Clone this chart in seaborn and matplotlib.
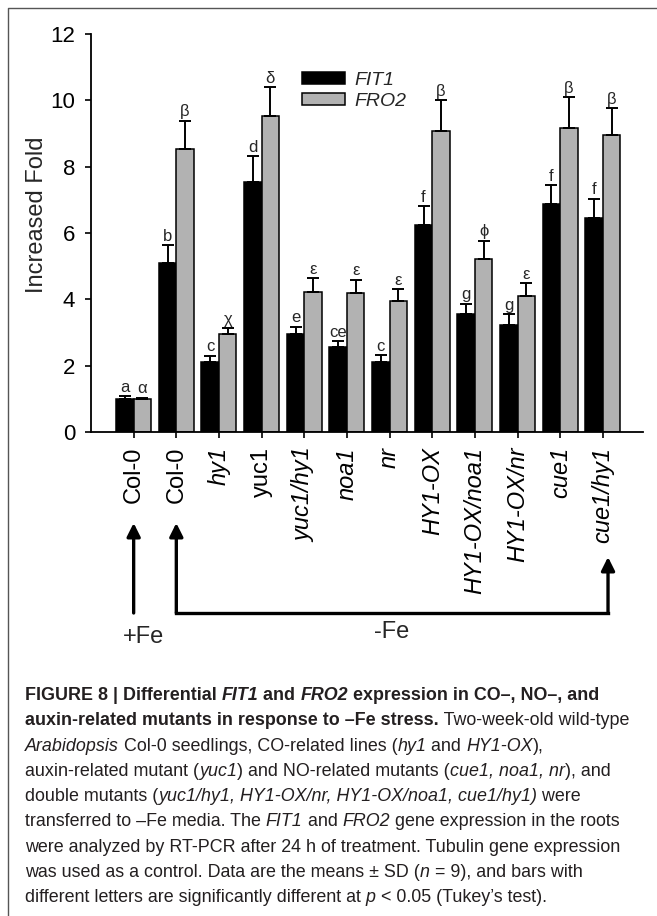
import matplotlib
matplotlib.use("Agg")
import numpy as np
import pandas as pd
import seaborn as sns
import matplotlib.pyplot as plt
from matplotlib import font_manager
from matplotlib.patches import Patch
from matplotlib.lines import Line2D
from matplotlib.transforms import blended_transform_factory

# data
lines = ["Col-0 +Fe", "Col-0", "hy1", "yuc1", "yuc1/hy1", "noa1", "nr",
         "HY1-OX", "HY1-OX/noa1", "HY1-OX/nr", "cue1", "cue1/hy1"]
tick_labels = ["Col-0", "Col-0", "hy1", "yuc1", "yuc1/hy1", "noa1", "nr",
               "HY1-OX", "HY1-OX/noa1", "HY1-OX/nr", "cue1", "cue1/hy1"]
italic_ticks = [False, False, True, False, True, True, True,
                True, True, True, True, True]

fit1 = [1.00, 5.09, 2.10, 7.55, 2.96, 2.55, 2.10, 6.23, 3.56, 3.23, 6.86, 6.45]
fit1_sd = [0.08, 0.54, 0.20, 0.76, 0.22, 0.18, 0.21, 0.57, 0.31, 0.33, 0.59, 0.58]
fro2 = [1.00, 8.54, 2.96, 9.54, 4.22, 4.18, 3.96, 9.08, 5.22, 4.10, 9.18, 8.95]
fro2_sd = [0.03, 0.85, 0.17, 0.85, 0.42, 0.41, 0.35, 0.92, 0.55, 0.38, 0.91, 0.82]
fit1_letters = ["a", "b", "c", "d", "e", "ce", "c", "f", "g", "g", "f", "f"]
fro2_letters = ["α", "β", "χ", "δ", "ε", "ε", "ε", "β", "ϕ", "ε", "β", "β"]

genes = ["FIT1", "FRO2"]
colors = ["black", "#b2b2b2"]

df = pd.DataFrame({
    "line": lines * 2,
    "gene": ["FIT1"] * len(lines) + ["FRO2"] * len(lines),
    "value": fit1 + fro2,
})

sns.set_style("ticks")
plt.rcParams["font.family"] = ["Liberation Sans", "DejaVu Sans"]

names = {f.name for f in font_manager.fontManager.ttflist}
cap_family = "Liberation Sans Narrow" if "Liberation Sans Narrow" in names else "Liberation Sans"

W, H = 657, 916
fig = plt.figure(figsize=(W / 100, H / 100), dpi=100)
ax = fig.add_axes([91 / W, 1 - 432 / H, (643 - 91) / W, (432 - 34) / H])

sns.barplot(data=df, x="line", y="value", hue="gene", order=lines,
            hue_order=genes, palette=colors, saturation=1, errorbar=None,
            width=0.82, edgecolor="black", linewidth=1.1, legend=False, ax=ax)

sds = [fit1_sd, fro2_sd]
letters = [fit1_letters, fro2_letters]
for cont, sd, lets in zip(ax.containers, sds, letters):
    xs = [b.get_x() + b.get_width() / 2 for b in cont]
    hs = [b.get_height() for b in cont]
    ax.errorbar(xs, hs, yerr=[np.zeros(len(sd)), sd], fmt="none",
                ecolor="black", elinewidth=1.4, capsize=4, capthick=1.4, zorder=3)
    for x, h, s, t in zip(xs, hs, sd, lets):
        ax.annotate(t, (x, h + s), xytext=(0, 1), textcoords="offset points",
                    ha="center", va="bottom", fontsize=12,
                    family=["Liberation Sans", "DejaVu Sans"])

ax.set_ylim(0, 12)
ax.set_yticks(np.arange(0, 13, 2))
ax.set_xlim(-1.0, 11.94)
ax.set_xticks(range(len(lines)))
ax.set_xticklabels(tick_labels, rotation=90, fontsize=17)
for lbl, it in zip(ax.get_xticklabels(), italic_ticks):
    lbl.set_fontstyle("italic" if it else "normal")
ax.tick_params(axis="y", labelsize=16, length=4.3, width=1.2, pad=7, colors="black")
ax.tick_params(axis="x", length=4.3, width=1.2, pad=6.5, colors="black")
ax.set_xlabel("")
ax.set_ylabel("Increased Fold", fontsize=17)
ax.yaxis.set_label_coords(-0.078, 0.545)
sns.despine(ax=ax)
for sp in ["left", "bottom"]:
    ax.spines[sp].set_linewidth(1.3)
    ax.spines[sp].set_color("black")

handles = [Patch(facecolor=c, edgecolor="black", linewidth=1.1) for c in colors]
ax.legend(handles, genes, prop={"style": "italic", "size": 14}, frameon=False,
          loc="upper left", bbox_to_anchor=(0.382, 0.905), handlelength=2.2,
          handleheight=0.6, handletextpad=0.5, labelspacing=0.2,
          borderpad=0, borderaxespad=0)

# treatment arrows under the tick labels
trans = blended_transform_factory(ax.transData, fig.transFigure)
fy = lambda p: 1 - p / H
arrow = dict(arrowstyle="-|>,head_length=0.4,head_width=0.2", mutation_scale=20,
             lw=2.4, color="black", shrinkA=0, shrinkB=0)
ax.annotate("", xy=(0, fy(523)), xytext=(0, fy(613)), xycoords=trans,
            textcoords=trans, arrowprops=arrow)
ax.annotate("", xy=(1, fy(523)), xytext=(1, fy(613)), xycoords=trans,
            textcoords=trans, arrowprops=arrow)
ax.annotate("", xy=(11.12, fy(557)), xytext=(11.12, fy(613)), xycoords=trans,
            textcoords=trans, arrowprops=arrow)
ax.plot([1, 11.12], [fy(613), fy(613)], transform=trans, clip_on=False,
        color="black", lw=2.4, solid_capstyle="projecting")
fig.text(143 / W, fy(637), "+Fe", ha="center", va="center", fontsize=17)
fig.text(392 / W, fy(632), "-Fe", ha="center", va="center", fontsize=17)

# frame around the figure panel
fig.add_artist(Line2D([8 / W, 8 / W, 1], [0, fy(8), fy(8)], transform=fig.transFigure,
                      color="#555555", lw=1))

# caption
caption = [
    [("FIGURE 8 | Differential ", "bold", "normal"), ("FIT1", "bold", "italic"),
     (" and ", "bold", "normal"), ("FRO2", "bold", "italic"),
     (" expression in CO–, NO–, and", "bold", "normal")],
    [("auxin-related mutants in response to –Fe stress.", "bold", "normal"),
     (" Two-week-old wild-type", "normal", "normal")],
    [("Arabidopsis", "normal", "italic"),
     (" Col-0 seedlings, CO-related lines (", "normal", "normal"),
     ("hy1", "normal", "italic"), (" and ", "normal", "normal"),
     ("HY1-OX", "normal", "italic"), ("),", "normal", "normal")],
    [("auxin-related mutant (", "normal", "normal"), ("yuc1", "normal", "italic"),
     (") and NO-related mutants (", "normal", "normal"),
     ("cue1, noa1, nr", "normal", "italic"), ("), and", "normal", "normal")],
    [("double mutants (", "normal", "normal"),
     ("yuc1/hy1, HY1-OX/nr, HY1-OX/noa1, cue1/hy1)", "normal", "italic"),
     (" were", "normal", "normal")],
    [("transferred to –Fe media. The ", "normal", "normal"), ("FIT1", "normal", "italic"),
     (" and ", "normal", "normal"), ("FRO2", "normal", "italic"),
     (" gene expression in the roots", "normal", "normal")],
    [("were analyzed by RT-PCR after 24 h of treatment. Tubulin gene expression",
      "normal", "normal")],
    [("was used as a control. Data are the means ± SD (", "normal", "normal"),
     ("n", "normal", "italic"), (" = 9), and bars with", "normal", "normal")],
    [("different letters are significantly different at ", "normal", "normal"),
     ("p", "normal", "italic"), (" < 0.05 (Tukey’s test).", "normal", "normal")],
]

renderer = fig.canvas.get_renderer()


def text_width(s, size, weight, style):
    kw = dict(fontsize=size, fontweight=weight, fontstyle=style,
              family=[cap_family, "DejaVu Sans"])
    a = fig.text(0, 0, "|" + s + "|", **kw)
    b = fig.text(0, 0, "||", **kw)
    w = a.get_window_extent(renderer).width - b.get_window_extent(renderer).width
    a.remove()
    b.remove()
    return w


ref_w = text_width(caption[6][0][0], 10, "normal", "normal")
cap_size = 10 * 596 / ref_w

for i, runs in enumerate(caption):
    x = 25.0
    y = fy(700 + i * 25.3)
    for s, weight, style in runs:
        fig.text(x / W, y, s, fontsize=cap_size, fontweight=weight, fontstyle=style,
                 family=[cap_family, "DejaVu Sans"], color="#231f20",
                 ha="left", va="baseline")
        x += text_width(s, cap_size, weight, style)

fig.savefig("out.png", dpi=100)
